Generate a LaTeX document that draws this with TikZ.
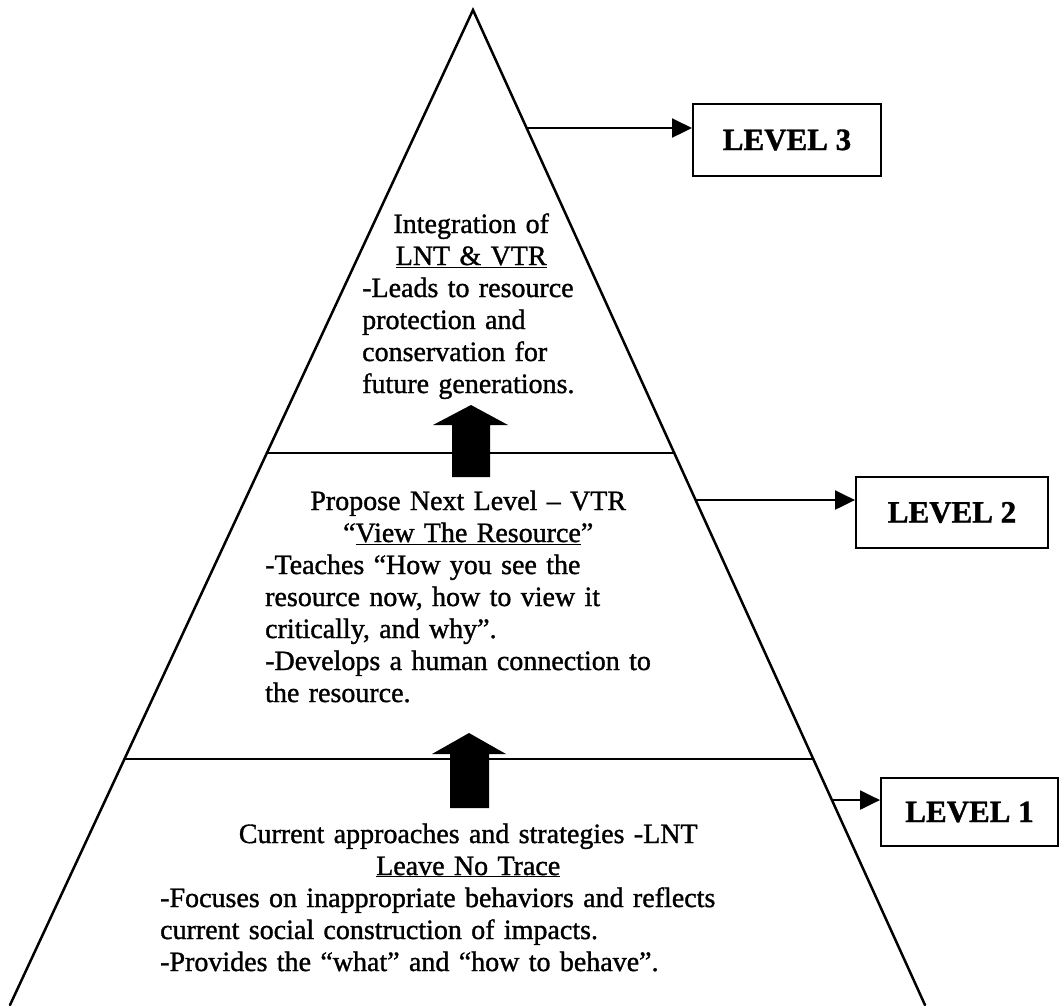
\documentclass[tikz,border=0pt]{standalone}
\usepackage{fontspec}
\setmainfont{Liberation Serif}[FakeBold=1.2]
\usetikzlibrary{calc,arrows.meta}

\begin{document}
\begin{tikzpicture}[
x=1pt, y=-1pt,
side/.style={line width=2.5pt, line cap=round},
level/.style={rectangle, draw=black, line width=2pt, anchor=north west, inner sep=0pt, font=\fontsize{31}{36}\selectfont\bfseries},
block/.style={anchor=base west, inner sep=0pt, align=left, font=\fontsize{28}{32}\selectfont},
link/.style={line width=2.2pt, -{Triangle[length=20pt,width=19pt]}},
push/.style={fill=black},
]
\useasboundingbox (0,0) rectangle (1059,1005);

%Pyramid
\coordinate (apex)       at (473,10);
\coordinate (base_left)  at (10,1005);
\coordinate (base_right) at (925,1005);
\coordinate (edge_3)     at ($(apex)!0.1186!(base_right)$);
\coordinate (edge_2)     at ($(apex)!0.4925!(base_right)$);
\coordinate (edge_1)     at ($(apex)!0.7940!(base_right)$);
\coordinate (cut_top_l)  at ($(apex)!0.4452!(base_left)$);
\coordinate (cut_top_r)  at ($(apex)!0.4452!(base_right)$);
\coordinate (cut_low_l)  at ($(apex)!0.7528!(base_left)$);
\coordinate (cut_low_r)  at ($(apex)!0.7528!(base_right)$);

\draw[side] (base_left) -- (apex) -- (base_right);
\draw[side] (cut_top_l) -- (cut_top_r);
\draw[side] (cut_low_l) -- (cut_low_r);

%Nodes
\node[block, text width=218pt] (tier_3) at (362,233)
  {{\centering Integration of\\ \underline{LNT \& VTR}\par}
   -Leads to resource\\ protection and\\ conservation for\\ future generations.};
\node[block, text width=406pt] (tier_2) at (265,510)
  {{\centering Propose Next Level -- VTR\\ ``\underline{View The Resource}''\par}
   -Teaches ``How you see the\\ resource now, how to view it\\ critically, and why''.\\
   -Develops a human connection to\\ the resource.};
\node[block, text width=616pt] (tier_1) at (160,843)
  {{\centering Current approaches and strategies -LNT\\ \underline{Leave No Trace}\par}
   -Focuses on inappropriate behaviors and reflects\\ current social construction of impacts.\\
   -Provides the ``what'' and ``how to behave''.};

\node[level, minimum width=188pt, minimum height=72pt] (level_3) at (692,103) {LEVEL 3};
\node[level, minimum width=192pt, minimum height=71pt] (level_2) at (855,476) {LEVEL 2};
\node[level, minimum width=177pt, minimum height=68pt] (level_1) at (880,777) {LEVEL 1};

%Lines
\draw[link] (edge_3) -- (edge_3 -| level_3.west);
\draw[link] (edge_2) -- (edge_2 -| level_2.west);
\draw[link] (edge_1) -- (edge_1 -| level_1.west);

%Block arrows
\coordinate (push_top) at (471,477);
\coordinate (push_low) at (469.5,808);
\fill[push] (push_top) ++(-19,0) -- ++(0,-52) -- ++(-19,0) -- ++(38,-20) -- ++(37,20) -- ++(-18,0) -- ++(0,52) -- cycle;
\fill[push] (push_low) ++(-19.5,0) -- ++(0,-54) -- ++(-18,0) -- ++(37,-21) -- ++(37,21) -- ++(-17,0) -- ++(0,54) -- cycle;

\end{tikzpicture}
\end{document}
